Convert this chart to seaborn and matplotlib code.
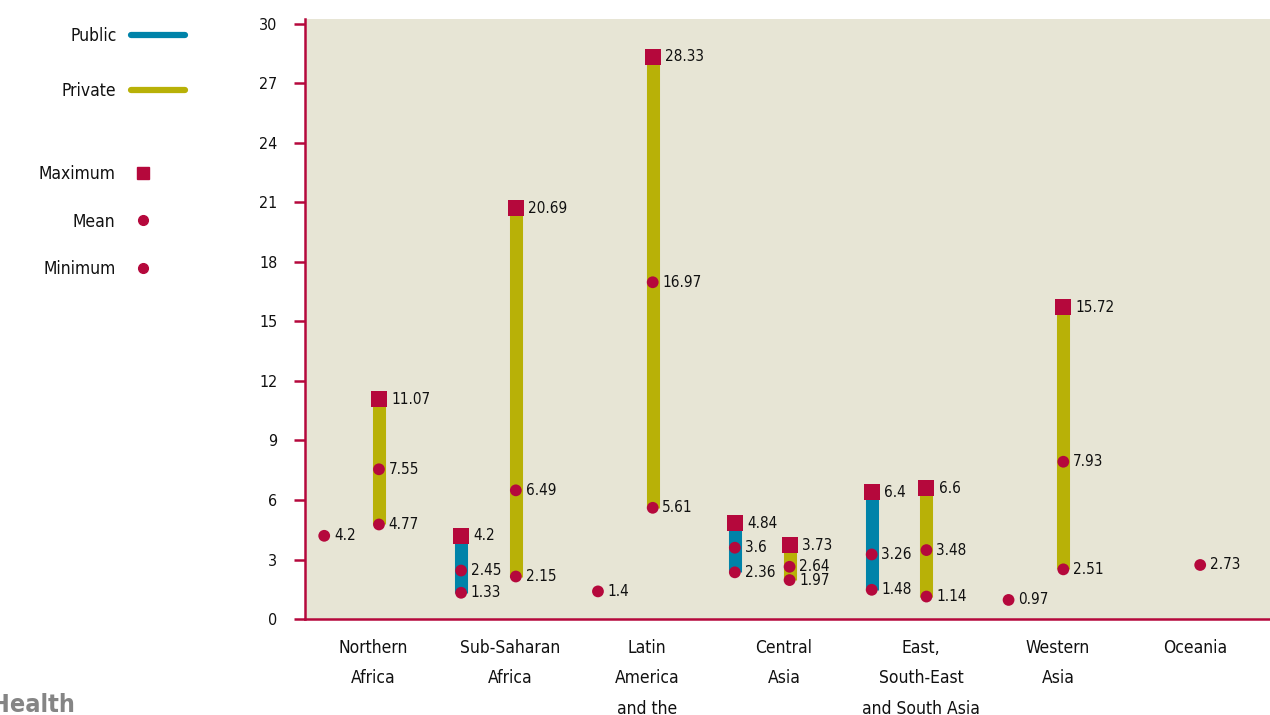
import numpy as np
import pandas as pd
import matplotlib
matplotlib.use("Agg")
import matplotlib.pyplot as plt
from matplotlib.lines import Line2D
import seaborn as sns

# data
categories = ["Northern\nAfrica", "Sub-Saharan\nAfrica", "Latin\nAmerica\nand the\nCaribbean",
              "Central\nAsia", "East,\nSouth-East\nand South Asia", "Western\nAsia", "Oceania"]
public_max = [np.nan, 4.2, np.nan, 4.84, 6.4, np.nan, np.nan]
public_mean = [4.2, 2.45, 1.4, 3.6, 3.26, 0.97, np.nan]
public_min = [np.nan, 1.33, np.nan, 2.36, 1.48, np.nan, np.nan]
private_max = [11.07, 20.69, 28.33, 3.73, 6.6, 15.72, np.nan]
private_mean = [7.55, 6.49, 16.97, 2.64, 3.48, 7.93, 2.73]
private_min = [4.77, 2.15, 5.61, 1.97, 1.14, 2.51, np.nan]
yticks = list(range(0, 31, 3))

C_PUB = "#0083a9"
C_PRI = "#b8b107"
C_RED = "#b5083c"
BG = "#e7e5d5"

sns.set_theme(style="white")
plt.rcParams['font.family'] = ['DejaVu Sans']
plt.rcParams['font.stretch'] = 'condensed'

# long table: one row per value
rows = []
for sector, off, mx, mn, mi in [("Public", 0.14, public_max, public_mean, public_min),
                                ("Private", 0.54, private_max, private_mean, private_min)]:
    for i in range(len(categories)):
        for stat, vals in [("Maximum", mx), ("Mean", mn), ("Minimum", mi)]:
            rows.append({"sector": sector, "x": i + off, "stat": stat, "value": vals[i]})
df = pd.DataFrame(rows).dropna()

fig = plt.figure(figsize=(12.7, 7.15), dpi=100)
ax = fig.add_axes([0.2402, 0.134, 0.7598, 0.84])
ax.set_facecolor(BG)

# range bars
for sector, col in [("Public", C_PUB), ("Private", C_PRI)]:
    d = df[df.sector == sector].pivot(index="x", columns="stat", values="value")
    d = d.dropna(subset=["Maximum", "Minimum"])
    ax.vlines(d.index, d["Minimum"], d["Maximum"], color=col, lw=9.4, zorder=2)

sq = df[df.stat == "Maximum"]
ci = df[df.stat != "Maximum"]
sns.scatterplot(data=sq, x="x", y="value", marker="s", s=132, color=C_RED,
                edgecolor="none", linewidth=0, ax=ax, zorder=3, legend=False)
sns.scatterplot(data=ci, x="x", y="value", marker="o", s=72, color=C_RED,
                edgecolor="none", linewidth=0, ax=ax, zorder=3, legend=False)

for _, r in df.iterrows():
    dx = 9 if r["stat"] == "Maximum" else 7
    ax.annotate(f"{r['value']:g}", (r["x"], r["value"]), xytext=(dx, 0),
                textcoords="offset points", ha="left", va="center",
                fontsize=11, color="#111111", zorder=4)

ax.set_xlim(0, 7.05)
ax.set_ylim(0, 30.25)
ax.set_yticks(yticks)
ax.set_yticklabels([str(t) for t in yticks], fontsize=11.5, color="#111111")
ax.set_xticks(np.arange(len(categories)) + 0.5)
ax.set_xticklabels(categories, fontsize=12.5, linespacing=1.9, va="top", color="#111111")
ax.set_xticks(np.arange(len(categories)), minor=True)
ax.tick_params(axis="x", which="major", length=0, pad=14)
ax.tick_params(axis="x", which="minor", length=6.5, width=1.8, color=C_RED, direction="out")
ax.tick_params(axis="y", length=8, width=1.8, color=C_RED, direction="out", pad=12, left=True)
ax.set_xlabel("")
ax.set_ylabel("")
for s in ["top", "right"]:
    ax.spines[s].set_visible(False)
for s in ["left", "bottom"]:
    ax.spines[s].set_color(C_RED)
    ax.spines[s].set_linewidth(1.8)
ax.spines["left"].set_bounds(0, 30.25)

# legends on the left
h1 = [Line2D([], [], color=C_PUB, lw=4.5, solid_capstyle="round"),
      Line2D([], [], color=C_PRI, lw=4.5, solid_capstyle="round")]
leg1 = fig.legend(h1, ["Public", "Private"], markerfirst=False, frameon=False,
                  loc="upper right", bbox_to_anchor=(185 / 1270, 1 - 27 / 715),
                  fontsize=12.5, handlelength=3.1, handletextpad=0.85, labelspacing=2.15,
                  borderpad=0, borderaxespad=0, labelcolor="#111111")
h2 = [Line2D([], [], ls="none", marker="s", ms=8, color=C_RED),
      Line2D([], [], ls="none", marker="o", ms=7, color=C_RED),
      Line2D([], [], ls="none", marker="o", ms=7, color=C_RED)]
leg2 = fig.legend(h2, ["Maximum", "Mean", "Minimum"], markerfirst=False, frameon=False,
                  loc="upper right", bbox_to_anchor=(150 / 1270, 1 - 165 / 715),
                  fontsize=12.5, handlelength=0.8, handletextpad=1.2, labelspacing=1.7,
                  borderpad=0, borderaxespad=0, labelcolor="#111111")

fig.text(-0.007, 1 - 693 / 715, "Health", fontsize=18, fontweight="bold",
         color="#858585", ha="left", va="top")

fig.savefig("out.png", dpi=100)
